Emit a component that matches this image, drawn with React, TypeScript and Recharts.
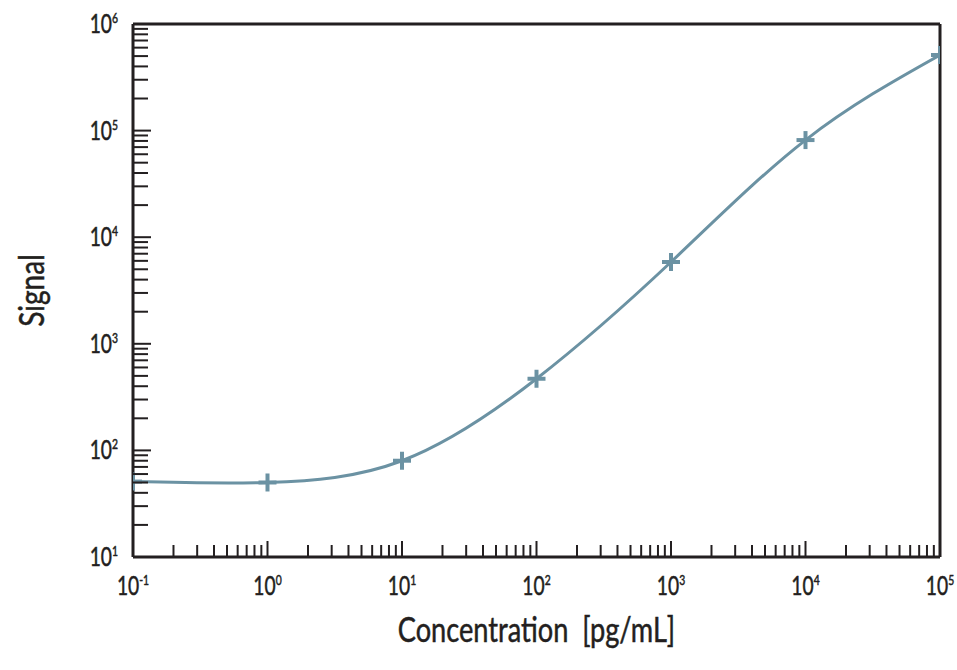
import React from 'react';
import { LineChart, Line, XAxis, YAxis, ReferenceLine } from 'recharts';

const concentrations = [0.1, 1, 10, 100, 1000, 10000, 100000];
const signals = [51, 50, 80, 470, 5850, 81500, 512000];

const xMajorTicks = [0.1, 1, 10, 100, 1000, 10000, 100000];
const yMajorTicks = [10, 100, 1000, 10000, 100000, 1000000];
const minorMultipliers = [2, 3, 4, 5, 6, 7, 8, 9];

const data = concentrations.map((c, i) => ({ x: c, y: signals[i] }));

const withMinor = (majors: number[]) => {
  const out: number[] = [];
  majors.forEach((m, i) => {
    out.push(m);
    if (i < majors.length - 1) minorMultipliers.forEach((k) => out.push(+(m * k).toPrecision(6)));
  });
  return out;
};
const xTicks = withMinor(xMajorTicks);
const yTicks = withMinor(yMajorTicks);

const INK = '#231f20';
const CURVE = '#6b92a3';
const FONT = 'Lato, "Open Sans", sans-serif';

const isMajor = (v: number) => {
  const l = Math.log10(v);
  return Math.abs(l - Math.round(l)) < 1e-6;
};

const CondText = ({ x, y, sx, rotate = 0, anchor, size, children }: any) => (
  <text
    transform={`translate(${x} ${y}) rotate(${rotate}) scale(${sx} 1)`}
    x={0}
    y={0}
    textAnchor={anchor}
    fill={INK}
    stroke={INK}
    strokeWidth={0.5}
    fontFamily={FONT}
    fontSize={size}
  >
    {children}
  </text>
);

const PowerLabel = ({ x, y, anchor, exp }: any) => (
  <CondText x={x} y={y} sx={0.74} anchor={anchor} size={26}>
    10
    <tspan dy={-10} fontSize={14}>{exp}</tspan>
  </CondText>
);

const XTick = (props: any) => {
  const { x, y, payload } = props;
  const v = payload.value;
  const major = isMajor(v);
  const exp = Math.round(Math.log10(v));
  const len = major ? 16 : 12;
  return (
    <g>
      <line x1={x} x2={x} y1={y} y2={y - len} stroke={INK} strokeWidth={2} />
      {major && <PowerLabel x={x} y={y + 38} anchor="middle" exp={exp} />}
    </g>
  );
};

const YTick = (props: any) => {
  const { x, y, payload } = props;
  const v = payload.value;
  const major = isMajor(v);
  const exp = Math.round(Math.log10(v));
  const len = major ? 18 : 15;
  return (
    <g>
      <line x1={x} x2={x + len} y1={y} y2={y} stroke={INK} strokeWidth={2} />
      {major && <PowerLabel x={x - 15} y={y + 9} anchor="end" exp={exp} />}
    </g>
  );
};

const Cross = (props: any) => {
  const { cx, cy } = props;
  if (cx == null || cy == null) return null;
  return (
    <g>
      <line x1={cx - 9} x2={cx + 9} y1={cy} y2={cy} stroke={CURVE} strokeWidth={4} />
      <line x1={cx} x2={cx} y1={cy - 9} y2={cy + 9} stroke={CURVE} strokeWidth={4} />
    </g>
  );
};

const XLabel = (props: any) => {
  const vb = props.viewBox || {};
  return (
    <CondText x={vb.x + vb.width / 2} y={vb.y + 85} sx={0.8} anchor="middle" size={34}>
      {'Concentration\u00a0\u00a0[pg/mL]'}
    </CondText>
  );
};

const YLabel = (props: any) => {
  const vb = props.viewBox || {};
  return (
    <CondText x={vb.x - 29} y={vb.y + vb.height / 2} sx={0.8} rotate={-90} anchor="middle" size={35}>
      Signal
    </CondText>
  );
};

export default function App() {
  return (
    <div style={{ width: 957, height: 670 }}>
      <style>{'html,body{margin:0;padding:0;overflow:hidden;}'}</style>
      <LineChart
        width={957}
        height={670}
        data={data}
        margin={{ top: 24, right: 17, left: 73, bottom: 73 }}
        style={{ overflow: 'visible' }}
      >
        <XAxis
          dataKey="x"
          type="number"
          scale="log"
          domain={[0.1, 100000]}
          ticks={xTicks}
          interval={0}
          tickSize={0}
          tickMargin={0}
          tick={<XTick />}
          axisLine={{ stroke: INK, strokeWidth: 3 }}
          allowDataOverflow
          height={40}
          label={<XLabel />}
        />
        <YAxis
          type="number"
          scale="log"
          domain={[10, 1000000]}
          ticks={yTicks}
          interval={0}
          tickSize={0}
          tickMargin={0}
          tick={<YTick />}
          axisLine={{ stroke: INK, strokeWidth: 3 }}
          allowDataOverflow
          width={60}
          label={<YLabel />}
        />
        <Line
          dataKey="y"
          type="natural"
          stroke={CURVE}
          strokeWidth={3}
          dot={<Cross />}
          activeDot={false}
          isAnimationActive={false}
        />
        <ReferenceLine y={1000000} stroke={INK} strokeWidth={3} />
        <ReferenceLine x={100000} stroke={INK} strokeWidth={3} />
      </LineChart>
    </div>
  );
}
